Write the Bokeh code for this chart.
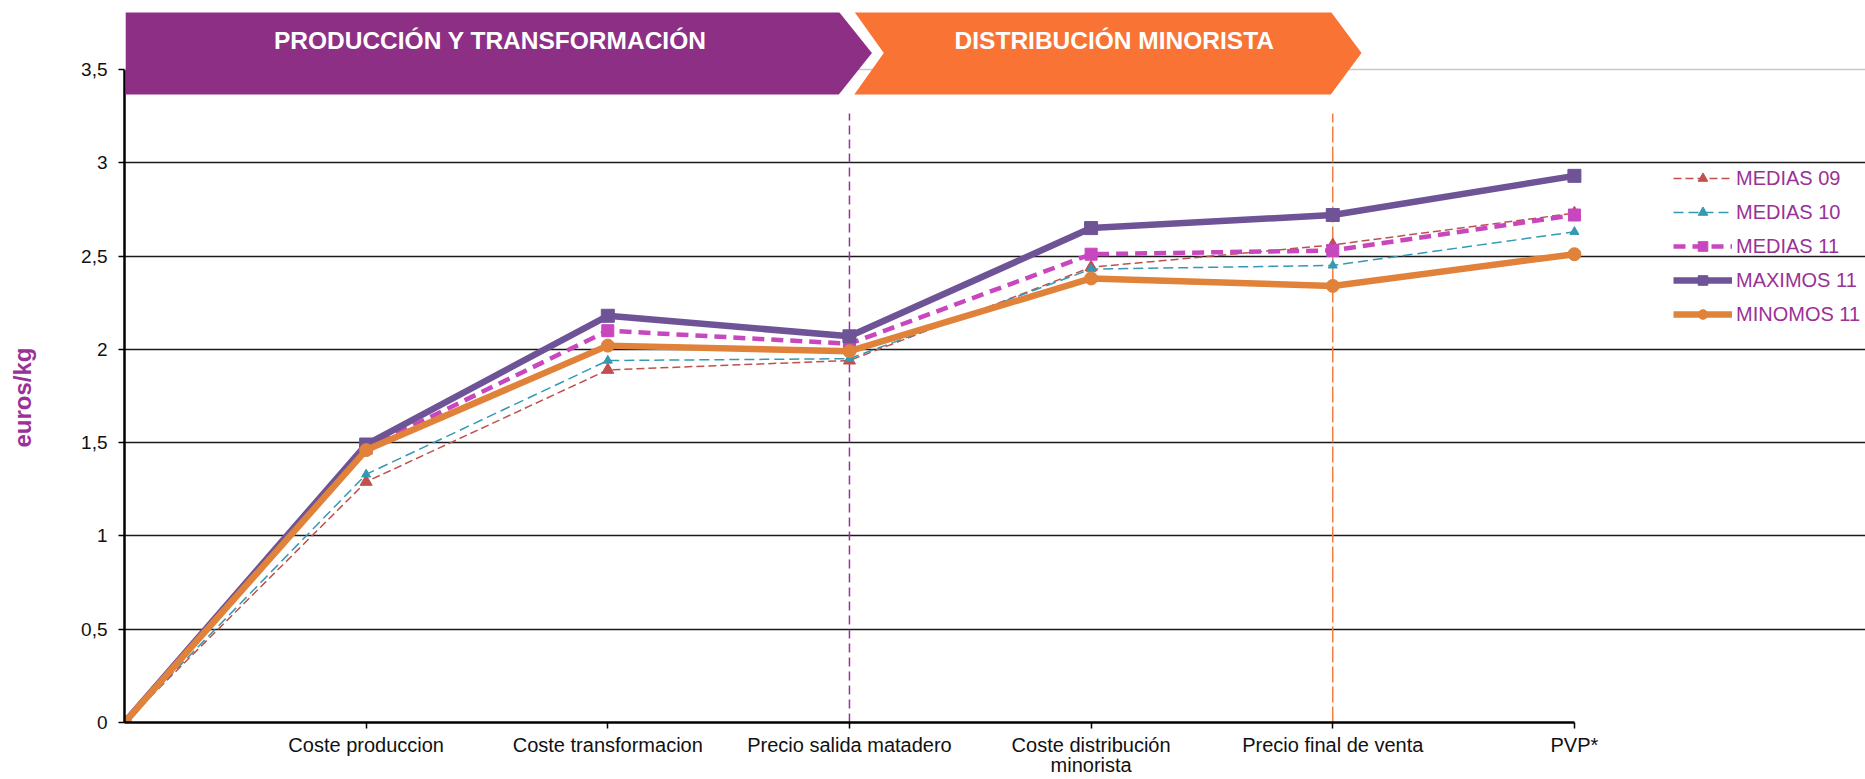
from bokeh.plotting import figure
from bokeh.models import (Range1d, FixedTicker, CustomJSTickFormatter, Legend, LegendItem,
                          PolyAnnotation, Label, Span)
from bokeh.embed import file_html
from bokeh.resources import INLINE

# ---------------- data ----------------
categories = ["", "Coste produccion", "Coste transformacion", "Precio salida matadero",
              "Coste distribución\nminorista", "Precio final de venta", "PVP*"]
medias_09 = [0, 1.29, 1.89, 1.94, 2.44, 2.56, 2.73]
medias_10 = [0, 1.33, 1.94, 1.95, 2.43, 2.45, 2.63]
medias_11 = [0, 1.47, 2.10, 2.03, 2.51, 2.53, 2.72]
maximos_11 = [0, 1.49, 2.18, 2.07, 2.65, 2.72, 2.93]
minomos_11 = [0, 1.46, 2.02, 1.99, 2.38, 2.34, 2.51]
y_ticks = [0, 0.5, 1, 1.5, 2, 2.5, 3, 3.5]
stage_titles = ["PRODUCCIÓN Y TRANSFORMACIÓN", "DISTRIBUCIÓN MINORISTA"]

x = list(range(len(categories)))
X_LAST = x[-1]

FONT = "Liberation Sans"
PURPLE_TXT = "#9A3197"

# ---------------- figure ----------------
# frame extends to the right edge so the legend can sit inside it;
# axis and grid are bounded to the category range
X_END = 7.2046
Y_TOP = 3.8055
p = figure(width=1865, height=779, x_range=Range1d(0, X_END), y_range=Range1d(0, Y_TOP),
           output_backend="svg", toolbar_location=None,
           min_border_left=124, min_border_right=0, min_border_top=12, min_border_bottom=57)
p.outline_line_color = None
p.background_fill_color = "white"
p.border_fill_color = "white"

# axes
p.xaxis.ticker = FixedTicker(ticks=x[1:])
p.xaxis.bounds = (0, X_LAST)
p.xaxis.major_label_overrides = {i: categories[i] for i in x[1:]}
p.xaxis.axis_line_color = "black"
p.xaxis.axis_line_width = 2.5
p.xaxis.major_tick_line_color = "black"
p.xaxis.major_tick_line_width = 1.5
p.xaxis.major_tick_out = 6
p.xaxis.major_tick_in = 0
p.xaxis.minor_tick_line_color = None
p.xaxis.major_label_standoff = 5
p.xaxis.major_label_text_font = FONT
p.xaxis.major_label_text_font_size = "20px"
p.xaxis.major_label_text_color = "#111111"
p.xaxis.major_label_text_line_height = 0.95

p.yaxis.ticker = FixedTicker(ticks=y_ticks)
p.yaxis.bounds = (0, 3.5)
p.yaxis.formatter = CustomJSTickFormatter(code="return tick.toString().replace('.', ',');")
p.yaxis.axis_line_color = "black"
p.yaxis.axis_line_width = 2.5
p.yaxis.major_tick_line_color = "black"
p.yaxis.major_tick_line_width = 1.5
p.yaxis.major_tick_out = 6
p.yaxis.major_tick_in = 0
p.yaxis.minor_tick_line_color = None
p.yaxis.major_label_standoff = 11
p.yaxis.major_label_text_font = FONT
p.yaxis.major_label_text_font_size = "19px"
p.yaxis.major_label_text_color = "#111111"
p.yaxis.axis_label = "euros/kg" + "\u00a0" * 9
p.yaxis.axis_label_text_font = FONT
p.yaxis.axis_label_text_font_style = "bold"
p.yaxis.axis_label_text_font_size = "24px"
p.yaxis.axis_label_text_color = PURPLE_TXT
p.yaxis.axis_label_standoff = 42

# grid
p.xgrid.grid_line_color = None
p.ygrid.ticker = FixedTicker(ticks=y_ticks[1:-1])
p.ygrid.bounds = (0, X_LAST)
p.ygrid.grid_line_color = "#1a1a1a"
p.ygrid.grid_line_width = 1.3
p.add_layout(Span(location=y_ticks[-1], dimension="width", line_color="#c8c8c8", line_width=1.3))

# stage divider lines
DIV_TOP = 3.264
p.segment(x0=[3], y0=[0], x1=[3], y1=[DIV_TOP], line_color="#A0309A", line_width=1.5, line_dash="9 5")
p.segment(x0=[5], y0=[0], x1=[5], y1=[DIV_TOP], line_color="#F47C3C", line_width=1.5, line_dash="16 4")

# ---------------- series ----------------
series = [
    ("MEDIAS 09", medias_09, "#C0504D", 1.5, "8 4", "triangle", 12),
    ("MEDIAS 10", medias_10, "#3399B4", 1.5, "10 5", "triangle", 9),
    ("MEDIAS 11", medias_11, "#C846BE", 4.5, "12 7", "square", 12),
    ("MAXIMOS 11", maximos_11, "#6E5496", 6.5, "solid", "square", 13),
    ("MINOMOS 11", minomos_11, "#E0823A", 6.5, "solid", "circle", 13),
]
items = []
for name, vals, col, lw, dash, marker, size in series:
    lr = p.line(x, vals, line_color=col, line_width=lw, line_dash=dash, line_join="round")
    sr = p.scatter(x, vals, marker=marker, size=size, fill_color=col, line_color=col)
    items.append(LegendItem(label=name, renderers=[lr, sr]))

legend = Legend(items=items, location=(1549, 396), orientation="vertical",
                label_text_font=FONT, label_text_font_size="20px", label_text_color=PURPLE_TXT,
                glyph_width=59, glyph_height=24, label_height=24, spacing=10,
                padding=0, margin=0, label_standoff=4,
                border_line_alpha=0, background_fill_alpha=0)
p.add_layout(legend)

# ---------------- stage banners ----------------
B_TOP, B_BOT = 3.81, 3.366
B_MID = (B_TOP + B_BOT) / 2
p.add_layout(PolyAnnotation(xs=[0.005, 2.956, 3.093, 2.956, 0.005],
                            ys=[B_TOP, B_TOP, B_MID, B_BOT, B_BOT],
                            fill_color="#8E2F86", fill_alpha=1, line_color=None))
p.add_layout(PolyAnnotation(xs=[3.020, 4.992, 5.119, 4.992, 3.020, 3.142],
                            ys=[B_TOP, B_TOP, B_MID, B_BOT, B_BOT, B_MID],
                            fill_color="#F87334", fill_alpha=1, line_color=None))
for tx, title in zip([1.514, 4.096], stage_titles):
    p.add_layout(Label(x=tx, y=3.658, text=title, text_align="center", text_baseline="middle",
                       text_font=FONT, text_font_style="bold", text_font_size="24.5px",
                       text_color="white"))

open("out.html", "w").write(file_html(p, INLINE))
